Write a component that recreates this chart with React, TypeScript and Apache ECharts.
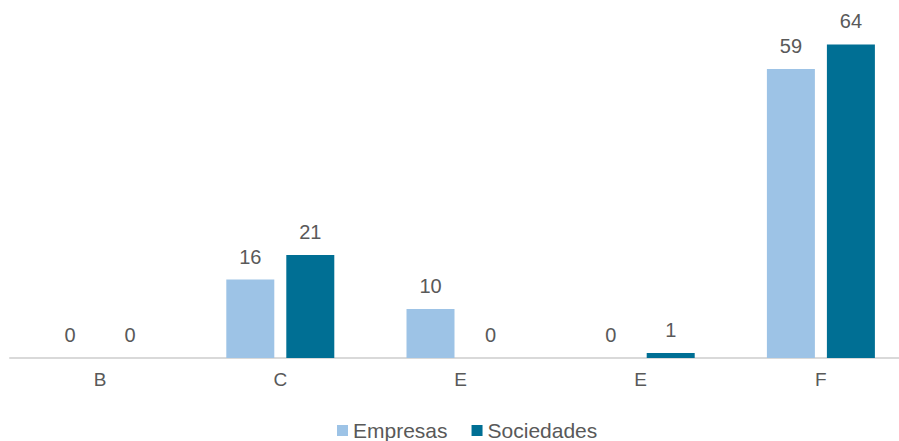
import React, { useEffect, useRef } from "react";
import * as echarts from "echarts";

const categories = ["B", "C", "E", "E", "F"];
const empresas = [0, 16, 10, 0, 59];
const sociedades = [0, 21, 0, 1, 64];
const seriesNames = ["Empresas", "Sociedades"];

export default function App() {
  const ref = useRef<HTMLDivElement>(null);
  useEffect(() => {
    document.body.style.margin = "0";
    const chart = echarts.init(ref.current!, null, { renderer: "svg" });
    const font = "Liberation Sans, Arial, sans-serif";
    const labelStyle = {
      show: true,
      position: "top",
      distance: 13,
      color: "#595959",
      fontSize: 20,
      fontFamily: font,
    };
    chart.setOption({
      animation: false,
      textStyle: { fontFamily: font },
      grid: { left: 10, top: 15, width: 901, height: 343, outerBoundsMode: "none", containLabel: false },
      legend: {
        left: 337,
        top: 420,
        padding: 0,
        itemWidth: 11,
        itemHeight: 11,
        itemGap: 24,
        icon: "rect",
        textStyle: { color: "#595959", fontSize: 21, lineHeight: 21, fontFamily: font },
        data: seriesNames,
      },
      xAxis: {
        type: "category",
        data: categories,
        axisLine: { lineStyle: { color: "#d9d9d9", width: 2 } },
        axisTick: { show: false },
        axisLabel: { color: "#595959", fontSize: 19, margin: 12, fontFamily: font },
      },
      yAxis: {
        type: "value",
        min: 0,
        max: 70,
        show: false,
        splitLine: { show: false },
      },
      series: [
        {
          name: seriesNames[0],
          type: "bar",
          data: empresas,
          barWidth: 48,
          barGap: "25%",
          itemStyle: { color: "#9DC3E6" },
          label: labelStyle,
        },
        {
          name: seriesNames[1],
          type: "bar",
          data: sociedades,
          barWidth: 48,
          itemStyle: { color: "#006F94" },
          label: labelStyle,
        },
      ],
    });
    return () => chart.dispose();
  }, []);
  return (
    <div
      ref={ref}
      style={{ position: "absolute", left: 0, top: 0, width: 899, height: 441 }}
    />
  );
}
